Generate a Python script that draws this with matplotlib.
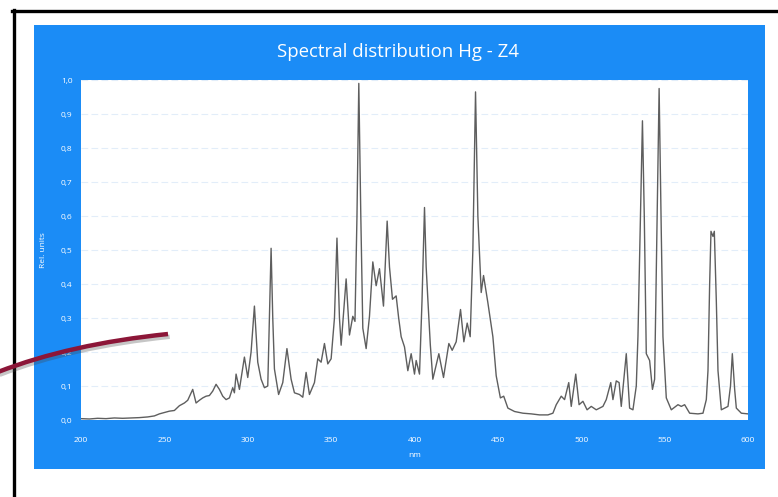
import matplotlib.pyplot as plt
from matplotlib.patches import Rectangle, PathPatch
from matplotlib.path import Path
from matplotlib.lines import Line2D
import matplotlib.patheffects as pe

# Hg - Z4 lamp spectrum, relative units vs wavelength (nm)
wavelength = [
    200, 205, 210, 215, 220, 225, 230, 235, 240, 244, 247, 250, 253, 256, 259,
    262, 264, 267, 269, 271, 273, 275, 277, 279, 281, 283, 285, 287, 289, 291,
    292, 293, 295, 298, 300, 302, 304, 306, 308, 310, 312, 313, 314, 315, 316,
    318.5, 321, 323.5, 326, 328, 331, 333, 335, 337, 340, 342, 344, 346, 348,
    350, 352, 353.5, 355, 356, 359, 361, 363, 364.3, 365.5, 366.6, 367.8, 369,
    371, 373, 375, 377, 379, 381.4, 383.6, 385, 386.8, 389, 390.5, 392, 394,
    396, 398, 400, 401, 403, 404.5, 406, 407, 408, 409.5, 411, 414.6, 417.4,
    420.6, 422.6, 425, 427.6, 429.6, 431.6, 433.4, 435, 436.6, 438, 440, 441.4,
    444, 447, 449, 451.5, 453.5, 456, 460, 465, 470, 475, 480, 483, 485, 488,
    490, 492.5, 494, 496.7, 498.7, 501, 503.5, 506, 509, 513, 515, 517.7, 519,
    521, 522.7, 524, 527, 529, 531, 533, 534, 535.5, 536.7, 537.8, 539, 541,
    542.7, 544, 545.5, 546.7, 548, 549, 551, 554, 558, 560, 562, 565, 570, 573,
    575, 576, 577, 577.8, 579, 579.8, 581, 582, 584, 588, 589.5, 590.6, 592,
    593, 596, 600,
]
rel_units = [
    0.004, 0.003, 0.005, 0.004, 0.006, 0.005, 0.006, 0.007, 0.009, 0.012,
    0.018, 0.022, 0.026, 0.028, 0.042, 0.05, 0.058, 0.09, 0.05, 0.058, 0.065,
    0.07, 0.072, 0.085, 0.105, 0.09, 0.07, 0.06, 0.065, 0.095, 0.08, 0.135,
    0.09, 0.185, 0.125, 0.2, 0.335, 0.17, 0.12, 0.095, 0.1, 0.3, 0.505, 0.3,
    0.15, 0.075, 0.11, 0.21, 0.12, 0.08, 0.075, 0.067, 0.14, 0.075, 0.11, 0.18,
    0.17, 0.225, 0.165, 0.18, 0.3, 0.535, 0.3, 0.22, 0.415, 0.25, 0.305, 0.29,
    0.6, 0.99, 0.6, 0.27, 0.21, 0.305, 0.465, 0.395, 0.445, 0.335, 0.585, 0.45,
    0.355, 0.365, 0.3, 0.245, 0.215, 0.145, 0.195, 0.135, 0.175, 0.135, 0.35,
    0.625, 0.45, 0.355, 0.22, 0.12, 0.195, 0.125, 0.225, 0.205, 0.23, 0.325,
    0.23, 0.285, 0.245, 0.5, 0.965, 0.6, 0.375, 0.425, 0.345, 0.245, 0.13,
    0.065, 0.07, 0.035, 0.025, 0.02, 0.018, 0.015, 0.015, 0.02, 0.045, 0.07,
    0.06, 0.11, 0.04, 0.135, 0.045, 0.055, 0.03, 0.04, 0.03, 0.04, 0.06, 0.11,
    0.06, 0.115, 0.11, 0.04, 0.195, 0.035, 0.03, 0.1, 0.245, 0.6, 0.88, 0.6,
    0.195, 0.175, 0.09, 0.12, 0.6, 0.975, 0.55, 0.245, 0.065, 0.03, 0.045,
    0.04, 0.045, 0.02, 0.018, 0.02, 0.06, 0.145, 0.4, 0.555, 0.54, 0.555, 0.35,
    0.145, 0.03, 0.04, 0.1, 0.195, 0.09, 0.035, 0.02, 0.018,
]
x_ticks = [200, 250, 300, 350, 400, 450, 500, 550, 600]
y_ticks = [0.0, 0.1, 0.2, 0.3, 0.4, 0.5, 0.6, 0.7, 0.8, 0.9, 1.0]

W, H = 778, 497
blue = '#1b8cf6'
plt.rcParams['font.family'] = ['Open Sans', 'DejaVu Sans']

fig = plt.figure(figsize=(W / 100, H / 100), dpi=100)
fig.patch.set_facecolor('white')

# blue card behind the chart
fig.patches.append(Rectangle((34 / W, 1 - 469 / H), 731 / W, 444 / H,
                             transform=fig.transFigure, facecolor=blue,
                             edgecolor='none', zorder=-1))

# page frame (runs off the right and bottom edges)
fig.add_artist(Line2D([12 / W, 1.0], [1 - 10.5 / H] * 2, transform=fig.transFigure,
                      color='black', lw=2.4))
fig.add_artist(Line2D([13.5 / W] * 2, [0.0, 1 - 9.5 / H], transform=fig.transFigure,
                      color='black', lw=2.4))

ax = fig.add_axes([81 / W, 1 - 420 / H, 667 / W, 340 / H])
ax.set_zorder(2)
ax.set_facecolor('white')
ax.plot(wavelength, rel_units, color='#5e5e5e', lw=1.0, zorder=3)

ax.set_xlim(200, 600)
ax.set_ylim(0, 1.0)
ax.set_xticks(x_ticks)
ax.set_xticklabels([str(t) for t in x_ticks])
ax.set_yticks(y_ticks)
ax.set_yticklabels([f'{t:.1f}'.replace('.', ',') for t in y_ticks])
ax.tick_params(length=0, colors='white', labelsize=6)
ax.tick_params(axis='x', pad=12)
ax.tick_params(axis='y', pad=6)
for s in ax.spines.values():
    s.set_visible(False)
ax.grid(axis='y', color='#e2edf9', lw=0.8, ls=(0, (6, 3)))
ax.set_axisbelow(True)

ax.set_xlabel('nm', color='white', fontsize=6, labelpad=6)
ax.set_ylabel('Rel. units', color='white', fontsize=6, labelpad=10)

fig.text(398 / W, 1 - 52 / H, 'Spectral distribution Hg - Z4', color='white',
         fontsize=13.4, ha='center', va='center')

# maroon pointer curve with a soft shadow, above the axes
pts = [(-2, 372), (70, 344), (168, 334)]
verts = [(x / W, 1 - y / H) for x, y in pts]
curve = PathPatch(Path(verts, [Path.MOVETO, Path.CURVE3, Path.CURVE3]),
                  transform=fig.transFigure, facecolor='none',
                  edgecolor='#8c1638', lw=3.2, capstyle='butt', zorder=10,
                  path_effects=[pe.SimpleLineShadow(offset=(1.2, -2), shadow_color='#444444', alpha=0.3),
                                pe.Normal()])
fig.add_artist(curve)

fig.savefig('out.png', dpi=100)
